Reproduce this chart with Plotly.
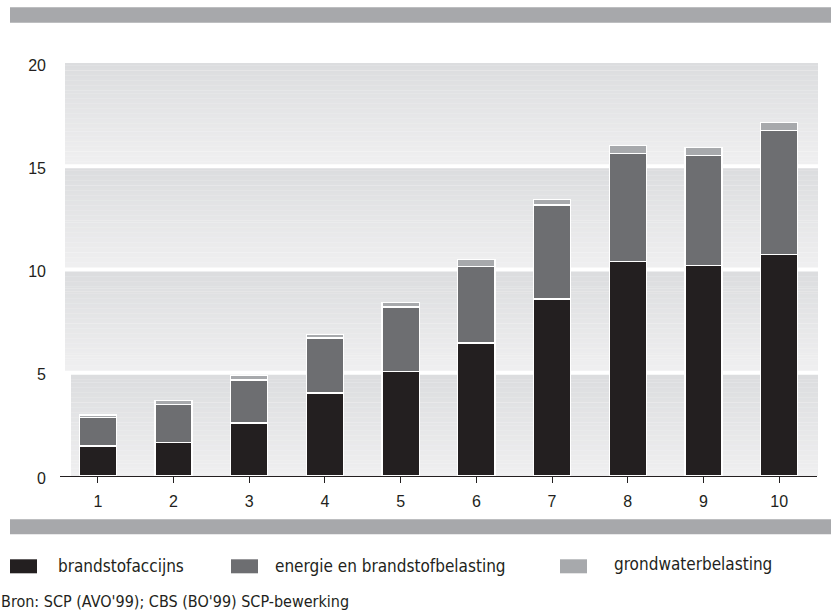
import plotly.graph_objects as go

# Household tax burden per decile group, stacked by tax type
deciles = [1, 2, 3, 4, 5, 6, 7, 8, 9, 10]
brandstofaccijns = [1.45, 1.63, 2.56, 4.02, 5.07, 6.44, 8.57, 10.40, 10.18, 10.71]
energiebelasting = [1.37, 1.82, 2.09, 2.66, 3.11, 3.72, 4.55, 5.22, 5.34, 6.02]
grondwaterbelasting = [0.14, 0.21, 0.21, 0.18, 0.21, 0.31, 0.28, 0.40, 0.39, 0.40]

series_names = ["brandstofaccijns", "energie en brandstofbelasting", "grondwaterbelasting"]
series_values = [brandstofaccijns, energiebelasting, grondwaterbelasting]
series_colors = ["#231f20", "#6d6e71", "#a7a9ac"]

y_ticks = [0, 5, 10, 15, 20]
source_text = "Bron: SCP (AVO'99); CBS (BO'99) SCP-bewerking"

W, H = 831, 611
ML, MR, MT, MB = 60, 14, 63, 135
PW, PH = W - ML - MR, H - MT - MB
Y_MAX = 20
PX_PER_UNIT = PH / Y_MAX


def px_x(px):
    return (px - ML) / PW


def px_y(py):
    return (H - MB - py) / PH


fig = go.Figure()

for name, vals, col in zip(series_names, series_values, series_colors):
    fig.add_trace(go.Bar(
        x=deciles, y=vals, name=name,
        marker=dict(color=col, line=dict(color="white", width=1.3)),
        width=0.49, showlegend=False,
    ))

shapes = []

# Banded plot background: each band fades from darker at the top to lighter below
dark = (220, 221, 223)
light = (239, 239, 240)
gap = 2 / PX_PER_UNIT
n_strips = 40
for k in range(4):
    y_lo = 5 * k + (gap if k > 0 else 0)
    y_hi = 5 * (k + 1) - (gap if k < 3 else 0)
    h = (y_hi - y_lo) / n_strips
    x0 = px_x(71) if k == 0 else px_x(65)
    for i in range(n_strips):
        t = i / (n_strips - 1)
        c = tuple(round(light[j] + (dark[j] - light[j]) * t) for j in range(3))
        shapes.append(dict(
            type="rect", xref="paper", yref="y", layer="below",
            x0=x0, x1=px_x(818), y0=y_lo + i * h, y1=min(y_lo + (i + 1) * h + 0.01, y_hi),
            fillcolor="rgb(%d,%d,%d)" % c, line=dict(width=0),
        ))

# Grey rules above the chart and below the axis
for top, bottom in [(7.3, 22.7), (519.3, 534.3)]:
    shapes.append(dict(
        type="rect", xref="paper", yref="paper",
        x0=px_x(10), x1=px_x(W), y0=px_y(bottom), y1=px_y(top),
        fillcolor="#a7a8ab", line=dict(width=0),
    ))

# Legend swatches and labels
narrow = "Liberation Sans Narrow, DejaVu Sans Condensed, Arial Narrow, sans-serif"
legend_x = [(10, 58), (231, 275), (560, 614)]
annotations = []
for (sx, tx), name, col in zip(legend_x, series_names, series_colors):
    shapes.append(dict(
        type="rect", xref="paper", yref="paper",
        x0=px_x(sx), x1=px_x(sx + 27), y0=px_y(573.3), y1=px_y(559.3),
        fillcolor=col, line=dict(width=0),
    ))
    ty = 564 if name == "grondwaterbelasting" else 566
    annotations.append(dict(
        text=name, xref="paper", yref="paper", x=px_x(tx - 2), y=px_y(ty),
        xanchor="left", yanchor="middle", showarrow=False,
        font=dict(family=narrow, size=17, color="#231f20"),
    ))

annotations.append(dict(
    text=source_text, xref="paper", yref="paper", x=px_x(0), y=px_y(601),
    xanchor="left", yanchor="middle", showarrow=False, borderpad=0,
    font=dict(family=narrow, size=16, color="#231f20"),
))

tick_font = dict(family="Liberation Sans, Arial, sans-serif", size=16, color="#231f20")

fig.update_layout(
    width=W, height=H,
    margin=dict(l=ML, r=MR, t=MT, b=MB, pad=0),
    barmode="stack", bargap=0.5,
    paper_bgcolor="white", plot_bgcolor="white",
    shapes=shapes, annotations=annotations,
    xaxis=dict(
        range=[0.5, 10.5], tickvals=deciles, ticktext=[str(d) for d in deciles],
        showgrid=False, zeroline=False,
        showline=True, linecolor="#231f20", linewidth=1.3,
        ticks="outside", ticklen=6, tickwidth=1, tickcolor="#231f20",
        ticklabelstandoff=5,
        tickfont=tick_font,
    ),
    yaxis=dict(
        range=[0, Y_MAX], tickvals=y_ticks, ticktext=[str(v) for v in y_ticks],
        showgrid=False, zeroline=False, showline=False, ticks="",
        ticklabelstandoff=13, ticklabelshift=2,
        tickfont=tick_font,
    ),
)

fig.write_html("out.html")
